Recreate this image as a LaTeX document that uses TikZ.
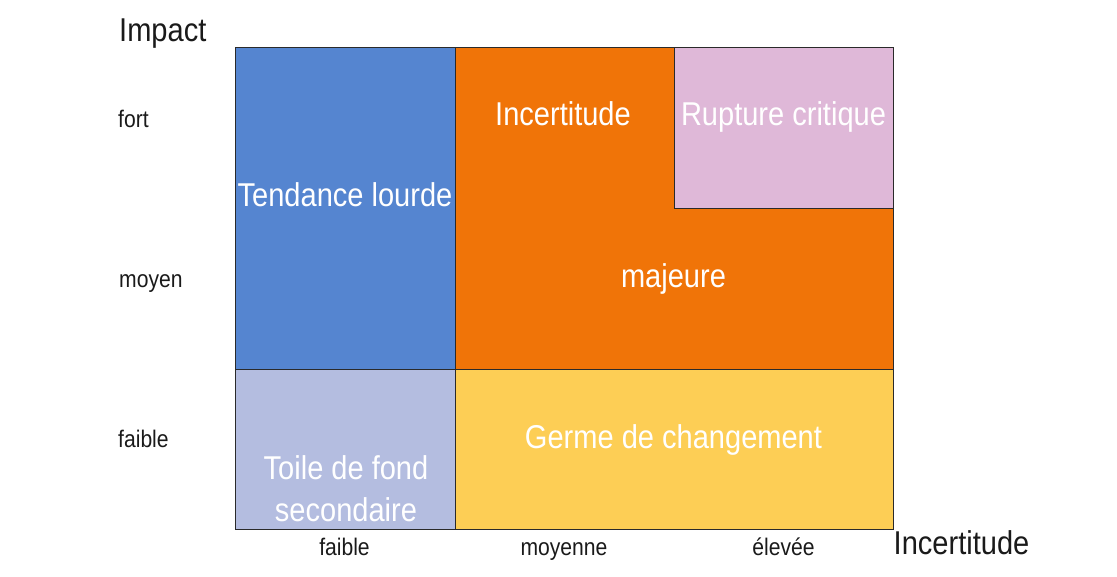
\documentclass[tikz,border=0pt]{standalone}
\usepackage{fontspec}
\setmainfont{Liberation Sans}[FakeStretch=0.88]
\definecolor{cblue}{HTML}{5585D0}
\definecolor{corange}{HTML}{F07408}
\definecolor{cpink}{HTML}{DFB8D8}
\definecolor{clav}{HTML}{B4BDE0}
\definecolor{cyellow}{HTML}{FDCE55}
\definecolor{cline}{HTML}{2A2A2A}
\definecolor{ctext}{HTML}{1A1A1A}
\tikzset{
  cell/.style={draw=cline, line width=1pt},
  boxlabel/.style={text=white, anchor=base, inner sep=0pt, font=\fontsize{33}{40}\selectfont},
  axislabel/.style={text=ctext, anchor=base, inner sep=0pt, font=\fontsize{33}{40}\selectfont},
  ticklabel/.style={text=ctext, anchor=base, inner sep=0pt, font=\fontsize{24}{28}\selectfont},
}
\begin{document}
\begin{tikzpicture}[x=1pt,y=-1pt]
\useasboundingbox (0,0) rectangle (1117,576);
% cells
\fill[cblue] (235,47) rectangle (455,369);
\fill[corange] (455,47) -- (674,47) -- (674,208) -- (893,208) -- (893,369) -- (455,369) -- cycle;
\fill[cpink] (674,47) rectangle (893,208);
\fill[clav] (235,369) rectangle (455,529);
\fill[cyellow] (455,369) rectangle (893,529);
\draw[cell] (235,47) rectangle (455,369);
\draw[cell] (455,47) -- (674,47) -- (674,208) -- (893,208) -- (893,369) -- (455,369) -- cycle;
\draw[cell] (674,47) rectangle (893,208);
\draw[cell] (235,369) rectangle (455,529);
\draw[cell] (455,369) rectangle (893,529);
% box labels
\node[boxlabel] (tl) at (345,206) {Tendance lourde};
\node[boxlabel] (inc) at (563,125) {Incertitude};
\node[boxlabel] (rc) at (783.5,125) {Rupture critique};
\node[boxlabel] (maj) at (673.5,287) {majeure};
\node[boxlabel] (gc) at (673.5,448) {Germe de changement};
\node[boxlabel] (tf1) at (346,479) {Toile de fond};
\node[boxlabel] (tf2) at (346,521) {secondaire};
% axis labels
\node[axislabel, anchor=base west] (imp) at (119,41) {Impact};
\node[axislabel] (xinc) at (961.5,554) {Incertitude};
% tick labels
\node[ticklabel, anchor=base west] (yf) at (118,127) {fort};
\node[ticklabel, anchor=base west] (ym) at (119,287) {moyen};
\node[ticklabel, anchor=base west] (yl) at (118,447) {faible};
\node[ticklabel] (xf) at (344.5,555) {faible};
\node[ticklabel] (xm) at (564,555) {moyenne};
\node[ticklabel] (xe) at (783.5,555) {élevée};
\end{tikzpicture}
\end{document}
